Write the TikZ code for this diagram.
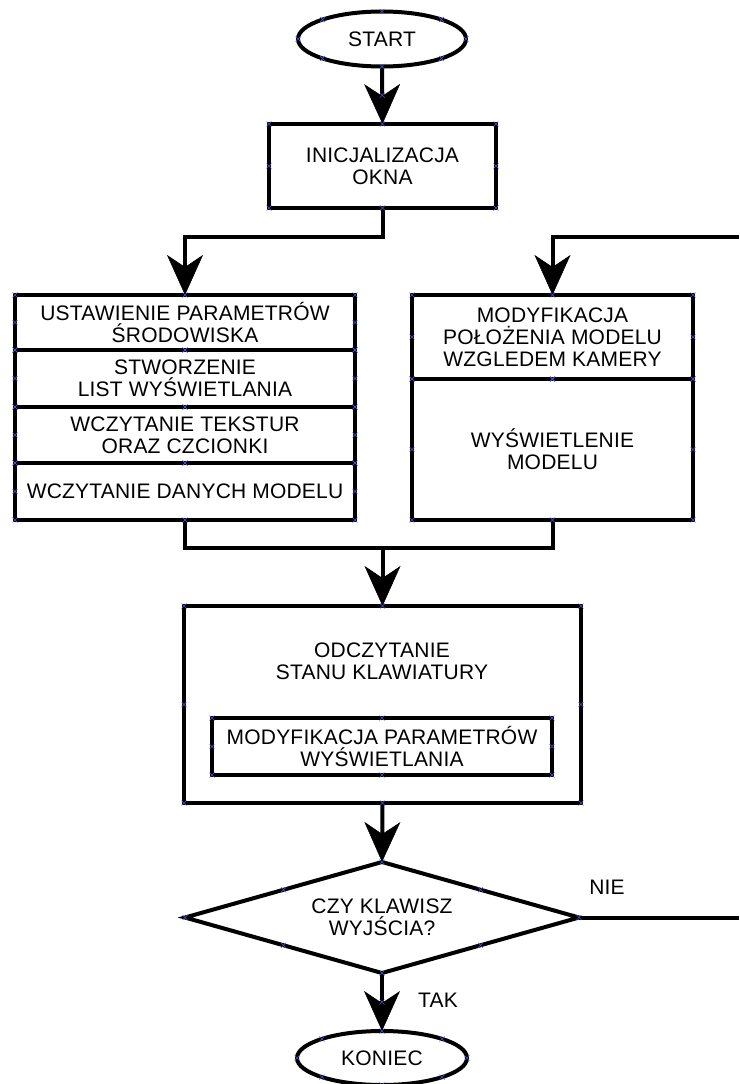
\documentclass[tikz,border=0pt]{standalone}
\usepackage{fontspec}
\setmainfont[LetterSpace=1]{Liberation Sans}
\usetikzlibrary{arrows.meta,shapes.geometric,shapes.misc,calc}
\definecolor{markblue}{RGB}{80,80,210}
\begin{document}
\begin{tikzpicture}[x=1pt,y=-1pt,
  every node/.style={font=\fontsize{21}{22}\selectfont, align=center, text=black},
  box/.style={draw, line width=4pt, rectangle, inner sep=0pt, outer sep=0pt},
  term/.style={draw, line width=4pt, ellipse, inner sep=0pt, outer sep=0pt},
  dec/.style={draw, line width=4pt, diamond, aspect=3.5, inner sep=0pt, outer sep=0pt},
  conn/.style={line width=4pt},
  arr/.style={conn, -{Stealth[length=40pt,width=36pt,inset=12pt,line width=0.5pt]}},
  lbl/.style={inner sep=0pt},
  xm/.style={cross out, draw=markblue, line width=0.6pt, minimum size=5pt, inner sep=0pt, outer sep=0pt}
]
\useasboundingbox (0,0) rectangle (739,1084);

% shapes
\node[term, minimum width=168pt, minimum height=55pt] (start) at (382,39) {START};
\node[box, minimum width=227pt, minimum height=84pt] (init) at (382.5,166) {INICJALIZACJA\\OKNA};

\node[box, minimum width=340pt, minimum height=55pt] (s1) at (185,322.5) {USTAWIENIE PARAMETRÓW\\ŚRODOWISKA};
\node[box, minimum width=340pt, minimum height=57pt] (s2) at (185,378.5) {STWORZENIE\\LIST WYŚWIETLANIA};
\node[box, minimum width=340pt, minimum height=56pt] (s3) at (185,435) {WCZYTANIE TEKSTUR\\ORAZ CZCIONKI};
\node[box, minimum width=340pt, minimum height=57pt] (s4) at (185,491.5) {WCZYTANIE DANYCH MODELU};

\node[box, minimum width=281pt, minimum height=84pt] (r1) at (552.5,337) {MODYFIKACJA\\POŁOŻENIA MODELU\\WZGLEDEM KAMERY};
\node[box, minimum width=281pt, minimum height=141pt] (r2) at (552.5,449.5) {WYŚWIETLENIE\\MODELU};

\node[box, minimum width=397pt, minimum height=197pt] (odcz) at (382.5,704.5) {};
\node[lbl] (odczt) at (382,661) {ODCZYTANIE\\STANU KLAWIATURY};
\node[box, minimum width=340pt, minimum height=57pt] (mod) at (382,746.5) {MODYFIKACJA PARAMETRÓW\\WYŚWIETLANIA};

\node[dec, minimum width=394pt, minimum height=111pt] (dec) at (382,917.5) {CZY KLAWISZ\\WYJŚCIA?};
\node[term, minimum width=170pt, minimum height=54pt] (end) at (382,1058) {KONIEC};

\node[lbl] (nie) at (607,887) {NIE};
\node[lbl] (tak) at (438,1000) {TAK};

% connectors
\coordinate (fbstart) at (739,237);
\coordinate (nieend) at (739,917.5);
\draw[arr] (start.south) -- (init.north);
\draw[arr] (init.south) -- ++(0,29) -| (s1.north);
\draw[arr] (fbstart) -| (r1.north);
\draw[conn] (s4.south) -- ++(0,28) -| (r2.south);
\coordinate (merge) at (382.5,548);
\draw[arr] (merge) -- (odcz.north);
\draw[arr] (odcz.south) -- (dec.north);
\draw[conn] (dec.east) -- (nieend);
\draw[arr] (dec.south) -- (end.north);

% blue connection markers
\foreach \a [count=\i] in {start,end,init,s1,s2,s3,s4,r1,r2,odcz,mod,dec}{
  \foreach \b [count=\j] in {north,south,east,west,north east,north west,south east,south west}{
    \node[xm] (xm-\i-\j) at (\a.\b) {};
  }
}
\node[xm] (xm-a1) at ($(start.south)!0.5!(init.north)$) {};
\node[xm] (xm-a2) at ($(dec.south)!0.5!(end.north)$) {};
\end{tikzpicture}
\end{document}
